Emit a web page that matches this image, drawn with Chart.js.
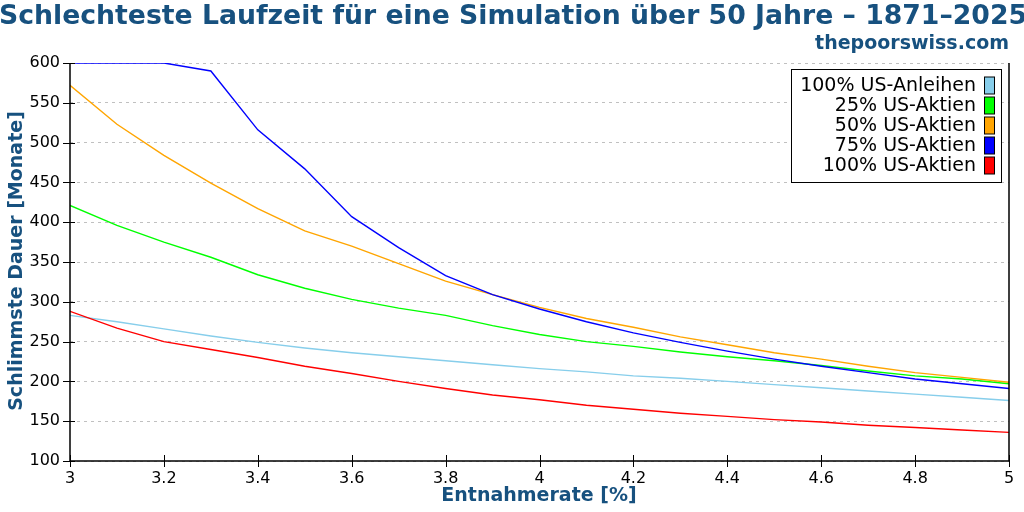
<!DOCTYPE html>
<html>
<head>
<meta charset="utf-8">
<script src="https://cdn.jsdelivr.net/npm/chart.js@4.4.1/dist/chart.umd.min.js"></script>
<style>
  html, body { margin: 0; padding: 0; background: #fff; }
  #wrap { width: 1024px; height: 512px; }
</style>
</head>
<body>
<div id="wrap"><canvas id="chart" width="1024" height="512"></canvas></div>
<script>
// --- data (worst duration in months per withdrawal rate) ---
const rates = [3.0, 3.1, 3.2, 3.3, 3.4, 3.5, 3.6, 3.7, 3.8, 3.9, 4.0, 4.1, 4.2, 4.3, 4.4, 4.5, 4.6, 4.7, 4.8, 4.9, 5.0];
const bonds100  = [283, 275, 266, 257, 249, 242, 236, 231, 226, 221, 216, 212, 207, 204, 200, 196, 192, 188, 184, 180, 176];
const stocks25  = [421, 396, 375, 356, 334, 317, 303, 292, 283, 270, 259, 250, 244, 237, 231, 226, 220, 213, 207, 203, 197];
const stocks50  = [572, 523, 484, 449, 417, 389, 370, 348, 326, 309, 293, 279, 268, 256, 246, 236, 228, 219, 211, 205, 199];
const stocks75  = [600, 600, 600, 590, 516, 467, 407, 368, 333, 309, 291, 275, 261, 249, 238, 228, 219, 211, 203, 197, 191];
const stocks100 = [288, 267, 250, 240, 230, 219, 210, 200, 191, 183, 177, 170, 165, 160, 156, 152, 149, 145, 142, 139, 136];

const seriesLabels = ['100% US-Anleihen', '25% US-Aktien', '50% US-Aktien', '75% US-Aktien', '100% US-Aktien'];
const seriesColors = ['#87ceeb', '#00ff00', '#ffa500', '#0000ff', '#ff0000'];
const seriesValues = [bonds100, stocks25, stocks50, stocks75, stocks100];

const titleText = 'Schlechteste Laufzeit für eine Simulation über 50 Jahre – 1871–2025';
const subtitleText = 'thepoorswiss.com';
const xTitle = 'Entnahmerate [%]';
const yTitle = 'Schlimmste Dauer [Monate]';

const BLUE = '#17517f';
const FONT = '"DejaVu Sans", sans-serif';

const datasets = seriesValues.map((vals, i) => ({
    label: seriesLabels[i],
    data: rates.map((r, j) => ({ x: r, y: vals[j] })),
    borderColor: seriesColors[i],
    backgroundColor: seriesColors[i],
    borderWidth: 1.4,
    pointRadius: 0,
    tension: 0,
    fill: false,
    order: seriesValues.length - i   // later series drawn on top
}));

// ticks, frame, legend and text drawn on top of the chart
const decorPlugin = {
    id: 'decor',
    afterDraw(chart) {
        const ctx = chart.ctx;
        const a = chart.chartArea;
        const xs = chart.scales.x, ys = chart.scales.y;
        ctx.save();

        // frame: left, bottom, right
        ctx.strokeStyle = '#000';
        ctx.lineWidth = 1.5;
        ctx.beginPath();
        ctx.moveTo(a.left, a.top); ctx.lineTo(a.left, a.bottom);
        ctx.lineTo(a.right, a.bottom); ctx.lineTo(a.right, a.top);
        ctx.stroke();

        // tick marks crossing the axes
        ctx.lineWidth = 1;
        ctx.beginPath();
        ys.ticks.forEach(t => {
            const y = Math.round(ys.getPixelForValue(t.value)) + 0.5;
            ctx.moveTo(a.left - 7, y); ctx.lineTo(a.left + 5, y);
        });
        xs.ticks.forEach(t => {
            const x = Math.round(xs.getPixelForValue(t.value)) + 0.5;
            ctx.moveTo(x, a.bottom - 6); ctx.lineTo(x, a.bottom + 6);
        });
        ctx.stroke();

        // legend box
        const lx = 791, ly = 69, lw = 210, lh = 113;
        ctx.fillStyle = '#fff';
        ctx.fillRect(lx, ly, lw, lh);
        ctx.strokeStyle = '#000';
        ctx.lineWidth = 1;
        ctx.strokeRect(lx + 0.5, ly + 0.5, lw, lh);
        ctx.font = '19px ' + FONT;
        ctx.textAlign = 'right';
        ctx.textBaseline = 'middle';
        seriesLabels.forEach((lab, i) => {
            const cy = 86 + i * 20;
            ctx.fillStyle = '#000';
            ctx.fillText(lab, 976, cy);
            ctx.fillStyle = seriesColors[i];
            ctx.fillRect(984.5, cy - 9, 10, 17);
            ctx.strokeRect(984.5, cy - 9, 10, 17);
        });

        // titles
        ctx.fillStyle = BLUE;
        ctx.textAlign = 'center';
        ctx.textBaseline = 'middle';
        ctx.font = 'bold 26.7px ' + FONT;
        ctx.fillText(titleText, 513, 17);
        ctx.textAlign = 'right';
        ctx.font = 'bold 19px ' + FONT;
        ctx.fillText(subtitleText, 1009, 44);

        // axis titles
        ctx.textAlign = 'center';
        ctx.fillText(xTitle, 539, 496);
        ctx.translate(17, 261);
        ctx.rotate(-Math.PI / 2);
        ctx.fillText(yTitle, 0, 0);

        ctx.restore();
    }
};

new Chart(document.getElementById('chart').getContext('2d'), {
    type: 'line',
    data: { datasets },
    options: {
        responsive: false,
        animation: false,
        devicePixelRatio: 1,
        layout: { padding: { top: 63, right: 15, left: 0, bottom: 0 } },
        plugins: { legend: { display: false }, tooltip: { enabled: false }, title: { display: false } },
        scales: {
            x: {
                type: 'linear', min: 3, max: 5,
                afterFit: s => { s.height = 51; },
                grid: { display: false, drawTicks: false },
                border: { display: false },
                ticks: {
                    stepSize: 0.2, padding: 8, color: '#000', maxRotation: 0,
                    font: { family: FONT, size: 16 },
                    callback: v => String(+(+v).toFixed(1))
                }
            },
            y: {
                type: 'linear', min: 100, max: 600,
                afterFit: s => { s.width = 70; },
                grid: { color: '#c0c0c0', lineWidth: 1, drawTicks: false },
                border: { display: false, dash: [3, 4] },
                ticks: {
                    stepSize: 50, padding: 10, color: '#000',
                    font: { family: FONT, size: 16 }
                }
            }
        }
    },
    plugins: [decorPlugin]
});
</script>
</body>
</html>
